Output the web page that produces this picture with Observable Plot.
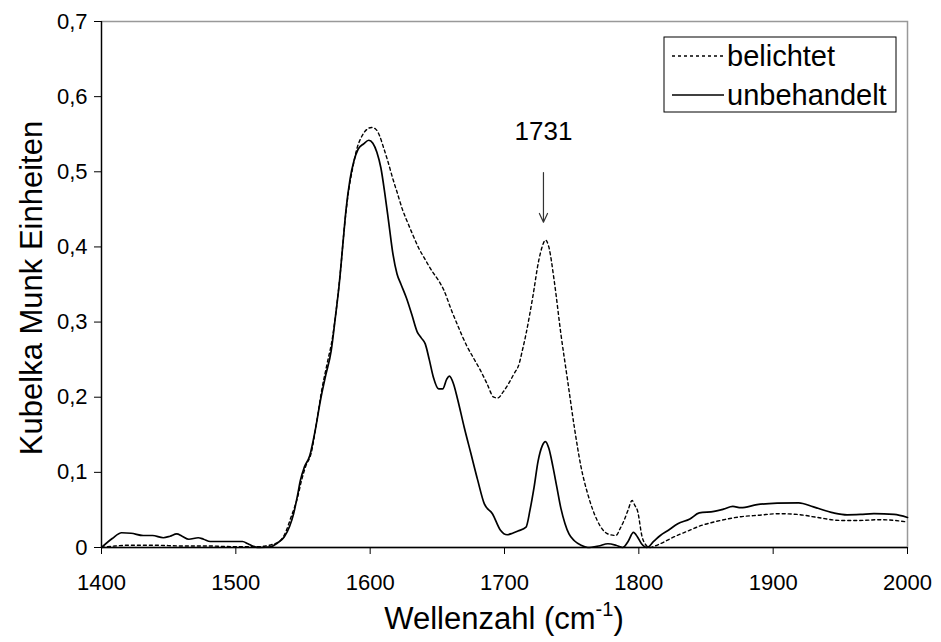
<!DOCTYPE html>
<html><head><meta charset="utf-8">
<script src="https://cdn.jsdelivr.net/npm/d3@7"></script>
<script src="https://cdn.jsdelivr.net/npm/@observablehq/plot@0.6"></script>
<style>
body{margin:0;background:#fff;}
#chart svg{font-family:"Liberation Sans",Arial,sans-serif;}
</style>
</head><body><div id="chart"></div>
<script>
// belichtet (dashed)
const belichtetX = [1400,1410,1420,1440,1460,1480,1500,1515,1522,1527,1533,1537,1541,1546,1549,1552,1556,1560,1564,1568,1572,1575,1578,1581,1584,1587,1590,1594,1598,1601,1604,1607,1610,1613,1617,1620,1624,1628,1632,1636,1641,1646,1651,1655,1660,1666,1672,1677,1682,1687,1692,1695,1699,1703,1707,1711,1713,1716,1721,1725.5,1728,1730.5,1733,1737,1742,1747,1752,1757,1762,1769,1777,1783,1786,1789,1792,1795,1797,1799,1802.5,1805,1808,1812,1816,1826,1838,1846,1856,1866,1876,1890,1903,1918,1933,1950,1963,1980,2000];
const belichtetY = [0,0.002,0.003,0.003,0.002,0.002,0.001,0.001,0.002,0.004,0.009,0.02,0.04,0.067,0.09,0.108,0.125,0.165,0.21,0.245,0.28,0.32,0.37,0.43,0.475,0.505,0.53,0.548,0.557,0.559,0.557,0.548,0.532,0.515,0.49,0.473,0.45,0.432,0.415,0.399,0.383,0.368,0.355,0.342,0.318,0.292,0.268,0.252,0.236,0.218,0.2,0.199,0.207,0.218,0.231,0.245,0.26,0.284,0.333,0.382,0.4,0.409,0.4,0.355,0.284,0.222,0.16,0.107,0.071,0.036,0.018,0.016,0.025,0.036,0.05,0.0625,0.056,0.049,0.0137,0.004,0,0.002,0.005,0.014,0.023,0.029,0.034,0.038,0.041,0.043,0.045,0.044,0.040,0.036,0.036,0.037,0.034];
// unbehandelt (solid)
const unbehandeltX = [1400,1408,1415,1422,1431,1438,1446,1451,1456,1460,1465,1472,1476,1481,1490,1500,1505,1509,1513,1518,1526,1531,1536,1540,1543,1546,1548,1551,1555,1559,1563,1567,1571,1574,1577,1580,1582,1585,1588,1591,1595,1599,1602,1605,1608,1611,1614,1617,1620,1623,1627,1631,1635,1638,1641,1644,1647,1651,1654,1657,1659,1662,1665,1670,1675,1680,1685,1691,1697,1702,1706,1710,1716,1719,1722,1725,1728,1730.5,1733,1736,1739,1742,1745,1748,1752,1757,1762,1770,1777,1783,1788,1792,1796,1799,1802,1806,1811,1816,1822,1829,1838,1845,1856,1863,1870,1876,1888,1903,1919,1930,1945,1955,1965,1975,1990,2000];
const unbehandeltY = [0,0.012,0.0196,0.019,0.016,0.016,0.013,0.015,0.018,0.015,0.011,0.013,0.011,0.008,0.008,0.008,0.008,0.005,0.0015,0,0.001,0.006,0.014,0.028,0.045,0.07,0.089,0.107,0.122,0.155,0.196,0.23,0.262,0.305,0.351,0.41,0.449,0.49,0.515,0.53,0.537,0.542,0.538,0.526,0.505,0.47,0.43,0.39,0.364,0.35,0.332,0.31,0.287,0.279,0.271,0.25,0.227,0.211,0.211,0.224,0.228,0.218,0.198,0.16,0.125,0.09,0.058,0.045,0.023,0.017,0.019,0.022,0.027,0.05,0.08,0.115,0.135,0.141,0.132,0.108,0.08,0.052,0.032,0.018,0.009,0.003,0,0.002,0.005,0.003,0,0.008,0.02,0.014,0.005,0,0.008,0.016,0.023,0.0315,0.038,0.046,0.048,0.051,0.0546,0.053,0.057,0.059,0.0595,0.054,0.046,0.0435,0.044,0.045,0.044,0.040];

const seriesNames = ["belichtet", "unbehandelt"];
const xTicks = [1400,1500,1600,1700,1800,1900,2000];
const yTicks = [0,0.1,0.2,0.3,0.4,0.5,0.6,0.7];
const annotX = [1729];
const annotArrowFrom = [0.499];
const annotArrowTo = [0.433];
const annotLabelY = [0.553];
const annotLabel = ["1731"];
const xTitle = "Wellenzahl (cm";
const xTitleSup = "-1";
const yTitle = "Kubelka Munk Einheiten";

const dataB = belichtetX.map((x, i) => ({x, y: belichtetY[i]}));
const dataU = unbehandeltX.map((x, i) => ({x, y: unbehandeltY[i]}));
const annot = annotX.map((x, i) => ({x, y1: annotArrowFrom[i], y2: annotArrowTo[i], ly: annotLabelY[i], label: annotLabel[i]}));
const fmtY = d => d === 0 ? "0" : d.toFixed(1).replace(".", ",");

const W = 941, H = 642, mL = 101, mR = 34, mT = 21, mB = 95;

const chart = Plot.plot({
  width: W, height: H,
  marginLeft: mL, marginRight: mR, marginTop: mT, marginBottom: mB,
  style: {fontFamily: "Liberation Sans, Arial, sans-serif", background: "#fff", color: "#000"},
  x: {domain: [1400, 2000]},
  y: {domain: [0, 0.7]},
  marks: [
    Plot.frame({stroke: "#999", strokeWidth: 1.5}),
    Plot.axisX({ticks: xTicks, tickFormat: d => String(d), tickSize: 7, tickPadding: 20, fontSize: 22, label: null, stroke: "#000"}),
    Plot.axisY({ticks: yTicks, tickFormat: fmtY, tickSize: 7, tickPadding: 7, fontSize: 22, label: null, stroke: "#000"}),
    Plot.ruleX([1400], {stroke: "#000", strokeWidth: 1.3}),
    Plot.ruleY([0], {stroke: "#000", strokeWidth: 1.3}),
    Plot.line(dataB, {x: "x", y: "y", stroke: "#000", strokeWidth: 1.4, strokeDasharray: "3,3", curve: "monotone-x"}),
    Plot.line(dataU, {x: "x", y: "y", stroke: "#000", strokeWidth: 1.7, curve: "monotone-x"}),
    Plot.arrow(annot, {x1: "x", x2: "x", y1: "y1", y2: "y2", stroke: "#333", strokeWidth: 1.2, headLength: 12, headAngle: 50}),
    Plot.text(annot, {x: "x", y: "ly", text: "label", fontSize: 26, fill: "#000"})
  ]
});
document.getElementById("chart").appendChild(chart);

const svg = d3.select(chart);
// x-axis title with superscript
const xt = svg.append("text")
  .attr("x", (mL + W - mR) / 2).attr("y", 629)
  .attr("text-anchor", "middle").attr("font-size", 31).attr("fill", "#000");
xt.append("tspan").text(xTitle);
xt.append("tspan").attr("font-size", 20).attr("dy", -13).text(xTitleSup);
xt.append("tspan").attr("dy", 13).text(")");
// y-axis title
svg.append("text")
  .attr("transform", `translate(42,${(mT + H - mB) / 2 + 4}) rotate(-90)`)
  .attr("text-anchor", "middle").attr("font-size", 31).attr("fill", "#000")
  .text(yTitle);
// legend
const lg = svg.append("g").attr("text-anchor", "start");
lg.append("rect").attr("x", 664).attr("y", 37).attr("width", 232).attr("height", 75)
  .attr("fill", "#fff").attr("stroke", "#000").attr("stroke-width", 1);
const rows = [{name: seriesNames[0], dash: "3,3", w: 1.4, y: 56}, {name: seriesNames[1], dash: null, w: 1.7, y: 95}];
rows.forEach(r => {
  lg.append("line").attr("x1", 672).attr("x2", 724).attr("y1", r.y).attr("y2", r.y)
    .attr("stroke", "#000").attr("stroke-width", r.w).attr("stroke-dasharray", r.dash);
  lg.append("text").attr("x", 727).attr("y", r.y).attr("dy", "0.36em")
    .attr("text-anchor", "start").attr("font-size", 29).attr("fill", "#000").text(r.name);
});
</script>
</body></html>
